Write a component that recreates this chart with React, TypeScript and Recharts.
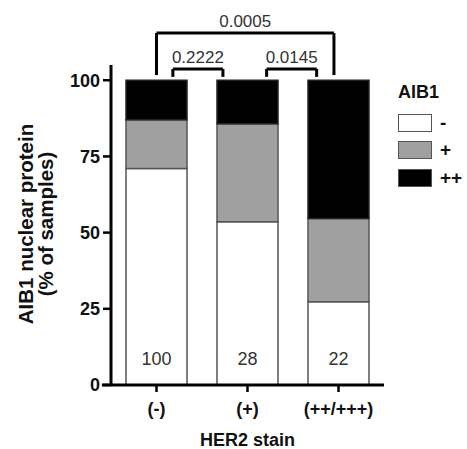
import { BarChart, Bar, XAxis, YAxis, ReferenceLine, LabelList, Legend } from 'recharts';

const categories = ['(-)', '(+)', '(++/+++)'];
const negative = [71, 53.6, 27.3]; // AIB1 -
const positive = [16, 32.1, 27.3]; // AIB1 +
const strong = [13, 14.3, 45.4]; // AIB1 ++
const sampleSizes = [100, 28, 22];
const yTicks = [0, 25, 50, 75, 100];
const legendOrder = ['-', '+', '++'];

// significance brackets: x in category index units, y in % units
const brackets = [
	{ x1: 0, x2: 1.95, top: 115.5, end: 101.7, p: '0.0005' },
	{ x1: 0.18, x2: 0.73, top: 103.7, end: 101.1, p: '0.2222' },
	{ x1: 1.21, x2: 1.76, top: 103.7, end: 101.1, p: '0.0145' },
];

const data = categories.map((c, i) => ({
	idx: i,
	name: c,
	neg: negative[i],
	pos: positive[i],
	strong: strong[i],
	n: sampleSizes[i],
}));

const FONT = 'Liberation Sans, Arial, Helvetica, sans-serif';

function YTitle(props: any) {
	const vb = props.viewBox || { y: 65, height: 320 };
	const cy = vb.y + vb.height / 2 - 1;
	return (
		<g fontFamily={FONT} fontWeight="bold" fontSize={20.5} fill="#111">
			<text x={25} y={cy} transform={`rotate(-90 25 ${cy})`} textAnchor="middle" dominantBaseline="central">
				AIB1 nuclear protein
			</text>
			<text x={45} y={cy} transform={`rotate(-90 45 ${cy})`} textAnchor="middle" dominantBaseline="central">
				(% of samples)
			</text>
		</g>
	);
}

function CountLabel(props: any) {
	const { x, y, width, height, value } = props;
	return (
		<text x={x + width / 2} y={y + height - 20} textAnchor="middle" fontFamily={FONT} fontSize={18} fill="#333">
			{value}
		</text>
	);
}

function LegendBox(props: any) {
	const items = [...(props.payload || [])].sort(
		(a: any, b: any) => legendOrder.indexOf(a.value) - legendOrder.indexOf(b.value)
	);
	return (
		<div style={{ fontFamily: FONT, fontWeight: 'bold', color: '#111' }}>
			<div style={{ fontSize: 18, lineHeight: '20px', marginBottom: 7 }}>AIB1</div>
			{items.map((it: any) => (
				<div key={it.value} style={{ height: 27.5, display: 'flex', alignItems: 'center' }}>
					<span
						style={{
							display: 'inline-block',
							width: 32,
							height: 16,
							background: it.color,
							border: '1.5px solid #555',
							marginRight: 8,
						}}
					/>
					<span style={{ fontSize: 19 }}>{it.value}</span>
				</div>
			))}
		</div>
	);
}

export default function App() {
	return (
		<div style={{ position: 'absolute', left: 0, top: 0, width: 467, height: 449, background: '#fff' }}>
			<BarChart width={467} height={449} data={data} margin={{ top: 65, right: 83, bottom: 0, left: 0 }}>
				<XAxis
					type="number"
					dataKey="idx"
					domain={[-0.5, 2.5]}
					ticks={[0, 1, 2]}
					tickFormatter={(v: number) => categories[v]}
					axisLine={false}
					tickLine={{ stroke: '#000', strokeWidth: 2.5 }}
					tickSize={7}
					tickMargin={10}
					height={64}
					tick={{ fontFamily: FONT, fontWeight: 'bold', fontSize: 18, fill: '#111' }}
					label={{
						value: 'HER2 stain',
						position: 'insideBottom',
						offset: 3,
						style: { fontFamily: FONT, fontWeight: 'bold', fontSize: 18, fill: '#111' },
					}}
				/>
				<YAxis
					type="number"
					domain={[0, 105]}
					ticks={yTicks}
					width={111}
					axisLine={{ stroke: '#000', strokeWidth: 3 }}
					tickLine={{ stroke: '#000', strokeWidth: 2.5 }}
					tickSize={8}
					tickMargin={3}
					tick={{ fontFamily: FONT, fontWeight: 'bold', fontSize: 18, fill: '#111' }}
					label={{ content: (p: any) => <YTitle {...p} /> }}
				/>
				<Legend
					layout="vertical"
					align="center"
					verticalAlign="middle"
					wrapperStyle={{ left: 398, top: 82, width: 69 }}
					content={(p: any) => <LegendBox {...p} />}
				/>
				<Bar dataKey="neg" name="-" stackId="a" fill="#ffffff" stroke="#555" strokeWidth={1.5} barSize={61} isAnimationActive={false}>
					<LabelList dataKey="n" content={(p: any) => <CountLabel {...p} />} />
				</Bar>
				<Bar dataKey="pos" name="+" stackId="a" fill="#a0a0a0" stroke="#555" strokeWidth={1.5} barSize={61} isAnimationActive={false} />
				<Bar dataKey="strong" name="++" stackId="a" fill="#000000" stroke="#222" strokeWidth={1.5} barSize={61} isAnimationActive={false} />
				<ReferenceLine
					segment={[{ x: -0.6, y: 0 }, { x: 2.5, y: 0 }]}
					stroke="#000"
					strokeWidth={3}
					ifOverflow="visible"
				/>
				{brackets.map((b) => [
					<ReferenceLine
						key={b.p + 'h'}
						segment={[{ x: b.x1, y: b.top }, { x: b.x2, y: b.top }]}
						stroke="#000"
						strokeWidth={3}
						ifOverflow="visible"
						label={{
							value: b.p,
							position: 'top',
							offset: 6,
							style: { fontFamily: FONT, fontSize: 17, fill: '#333' },
						}}
					/>,
					<ReferenceLine
						key={b.p + 'l'}
						segment={[{ x: b.x1, y: b.top }, { x: b.x1, y: b.end }]}
						stroke="#000"
						strokeWidth={3}
						ifOverflow="visible"
					/>,
					<ReferenceLine
						key={b.p + 'r'}
						segment={[{ x: b.x2, y: b.top }, { x: b.x2, y: b.end }]}
						stroke="#000"
						strokeWidth={3}
						ifOverflow="visible"
					/>,
				])}
			</BarChart>
		</div>
	);
}
